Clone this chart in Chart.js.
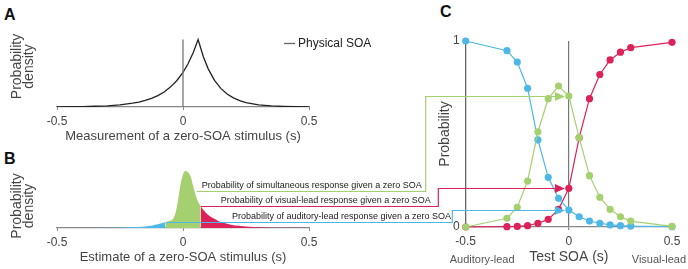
<!DOCTYPE html>
<html>
<head>
<meta charset="utf-8">
<script src="https://cdn.jsdelivr.net/npm/chart.js@4.4.1/dist/chart.umd.min.js"></script>
<style>
  body { margin: 0; background: #fff; width: 688px; height: 269px; position: relative; overflow: hidden; font-family: 'Liberation Sans', Arial, sans-serif; }
  canvas { position: absolute; }
  .tag { position: absolute; font-weight: bold; font-size: 16px; line-height: 16px; color: #111; }
</style>
</head>
<body>
<div class="tag" style="left:4px;top:7px">A</div>
<div class="tag" style="left:4px;top:151px">B</div>
<div class="tag" style="left:440px;top:4px">C</div>
<canvas id="chartA" width="340" height="144" style="left:0;top:0"></canvas>
<canvas id="chartB" width="340" height="132" style="left:0;top:137px"></canvas>
<canvas id="chartC" width="288" height="269" style="left:400px;top:0"></canvas>
<canvas id="overlay" width="688" height="269" style="left:0;top:0;pointer-events:none"></canvas>
<script>
// panel A: measurement density of a zero-SOA stimulus
const measX = [-0.5, -0.45, -0.4, -0.35, -0.3, -0.25, -0.2, -0.175, -0.15, -0.125, -0.1, -0.075, -0.05, -0.025, 0, 0.02, 0.04, 0.06, 0.08, 0.1, 0.125, 0.15, 0.175, 0.2, 0.225, 0.25, 0.3, 0.35, 0.4, 0.45, 0.5];
const measY = [0.002, 0.004, 0.006, 0.011, 0.018, 0.032, 0.056, 0.073, 0.097, 0.128, 0.169, 0.223, 0.295, 0.389, 0.513, 0.641, 0.80, 1.0, 0.751, 0.565, 0.395, 0.276, 0.193, 0.135, 0.095, 0.066, 0.032, 0.016, 0.008, 0.004, 0.002];
const physicalSOA = [0, 0];
const physicalY = [0, 1];

// panel B: estimate density, split by response region
const estX = [-0.5, -0.4, -0.3, -0.25, -0.2, -0.15, -0.12, -0.1, -0.07, -0.05, -0.04, -0.03, -0.02, -0.01, 0, 0.01, 0.02, 0.03, 0.04, 0.05, 0.06, 0.07, 0.08, 0.1, 0.12, 0.14, 0.16, 0.19, 0.22, 0.26, 0.3, 0.35, 0.4, 0.5];
const estY = [0, 0.002, 0.006, 0.01, 0.016, 0.028, 0.045, 0.065, 0.1, 0.13, 0.16, 0.26, 0.48, 0.76, 0.94, 1.0, 0.98, 0.91, 0.74, 0.58, 0.46, 0.38, 0.32, 0.23, 0.17, 0.125, 0.09, 0.058, 0.038, 0.022, 0.012, 0.006, 0.003, 0];
const windowEdges = [-0.07, 0.07];

// panel C: psychometric functions
const testSOA = [-0.5, -0.3, -0.25, -0.2, -0.15, -0.1, -0.05, 0, 0.05, 0.1, 0.15, 0.2, 0.25, 0.3, 0.5];
const pAuditory = [1.0, 0.948, 0.887, 0.746, 0.468, 0.267, 0.154, 0.091, 0.055, 0.032, 0.02, 0.011, 0.007, 0.005, 0.002];
const pSimultaneous = [0, 0.047, 0.106, 0.247, 0.512, 0.69, 0.758, 0.704, 0.48, 0.276, 0.16, 0.095, 0.055, 0.032, 0.003];
const pVisual = [0, 0.002, 0.003, 0.007, 0.02, 0.041, 0.095, 0.208, 0.48, 0.69, 0.82, 0.898, 0.94, 0.964, 0.993];

const responseNames = ['simultaneous', 'visual-lead', 'auditory-lead'];
const sideLabels = ['Auditory-lead', 'Visual-lead'];
const densityTitle = ['Probability', 'density'];

const GREEN = '#a5d06f';
const RED = '#dc2259';
const BLUE = '#4db8e8';
const AXIS = '#888';
const FONT = "'Liberation Sans', Arial, sans-serif";

Chart.defaults.font.family = FONT;
Chart.defaults.color = '#444';
Chart.defaults.animation = false;

const xy = (xs, ys) => xs.map((x, i) => ({ x: x, y: ys[i] }));

function densityX(title, height, padBottom) {
  return {
    type: 'linear', min: -0.5, max: 0.5,
    ticks: { stepSize: 0.5, padding: 4, font: { size: 12 }, color: '#444' },
    grid: { drawOnChartArea: false, tickLength: 3, color: AXIS },
    border: { color: AXIS, width: 1.2 },
    title: { display: true, text: title, font: { size: 13 }, color: '#444', padding: { top: 0, bottom: padBottom } },
    afterFit: s => { s.height = height; }
  };
}
function densityY(max, showTitle) {
  return {
    min: 0, max: max,
    ticks: { display: false },
    grid: { display: false },
    border: { display: false },
    title: { display: showTitle, text: densityTitle, font: { size: 14, lineHeight: 0.86 }, color: '#444', padding: { top: 11, bottom: 0 } },
    afterFit: s => { s.width = 57; }
  };
}

const chartA = new Chart(document.getElementById('chartA'), {
  type: 'line',
  data: {
    datasets: [
      { label: 'Physical SOA', data: xy(physicalSOA, physicalY), borderColor: '#777', borderWidth: 1.3, pointRadius: 0 },
      { label: 'measurement', data: xy(measX, measY), borderColor: '#222', borderWidth: 1.3, pointRadius: 0, tension: 0 }
    ]
  },
  options: {
    responsive: false,
    layout: { padding: { top: 26, right: 31, left: 0, bottom: 0 } },
    plugins: { legend: { display: false }, tooltip: { enabled: false } },
    scales: { x: densityX('Measurement of a zero-SOA stimulus (s)', 37, 0), y: densityY(1.2, true) }
  }
});

function region(lo, hi) {
  return xy(estX, estY).filter(p => p.x >= lo && p.x <= hi);
}

// B's y title sits lower than the axis centre, so it is placed by hand
const bTitlePlugin = {
  id: 'bTitle',
  afterDraw(chart) {
    const ctx = chart.ctx;
    ctx.save();
    ctx.translate(17, chart.scales.y.getPixelForValue(0) - 22);
    ctx.rotate(-Math.PI / 2);
    ctx.font = '14px ' + FONT;
    ctx.fillStyle = '#444';
    ctx.textAlign = 'center';
    ctx.textBaseline = 'middle';
    densityTitle.forEach((t, i) => ctx.fillText(t, 0, i * 12));
    ctx.restore();
  }
};

const chartB = new Chart(document.getElementById('chartB'), {
  type: 'line',
  data: {
    datasets: [
      { label: 'auditory', data: region(-0.5, windowEdges[0]), backgroundColor: BLUE, fill: 'origin', borderWidth: 0, pointRadius: 0, cubicInterpolationMode: 'monotone' },
      { label: 'simultaneous', data: region(windowEdges[0], windowEdges[1]), backgroundColor: GREEN, fill: 'origin', borderWidth: 0, pointRadius: 0, cubicInterpolationMode: 'monotone' },
      { label: 'visual', data: region(windowEdges[1], 0.5), backgroundColor: RED, fill: 'origin', borderWidth: 0, pointRadius: 0, cubicInterpolationMode: 'monotone' }
    ]
  },
  options: {
    responsive: false,
    layout: { padding: { top: 34, right: 31, left: 0, bottom: 0 } },
    plugins: { legend: { display: false }, tooltip: { enabled: false } },
    scales: { x: densityX('Estimate of a zero-SOA stimulus (s)', 41, 4), y: densityY(1.0, false) }
  },
  plugins: [bTitlePlugin]
});

function psych(label, values, color) {
  return {
    label: label, data: xy(testSOA, values), borderColor: color, backgroundColor: color,
    borderWidth: 1.2, pointRadius: 3.6, pointBorderWidth: 0, pointBackgroundColor: color, tension: 0, clip: false
  };
}

const sideLabelPlugin = {
  id: 'sideLabels',
  afterDraw(chart) {
    const ctx = chart.ctx;
    const xs = chart.scales.x;
    ctx.save();
    ctx.font = '11px ' + FONT;
    ctx.fillStyle = '#555';
    ctx.textBaseline = 'middle';
    ctx.textAlign = 'left';
    ctx.fillText(sideLabels[0], xs.getPixelForValue(-0.5) - 16, 260);
    ctx.textAlign = 'right';
    ctx.fillText(sideLabels[1], xs.getPixelForValue(0.5) + 14, 260);
    ctx.restore();
  }
};

const chartC = new Chart(document.getElementById('chartC'), {
  type: 'line',
  data: {
    datasets: [
      psych('simultaneous', pSimultaneous, GREEN),
      psych('auditory-lead', pAuditory, BLUE),
      psych('visual-lead', pVisual, RED)
    ]
  },
  options: {
    responsive: false,
    layout: { padding: { top: 41, right: 16, left: 0, bottom: 0 } },
    plugins: { legend: { display: false }, tooltip: { enabled: false } },
    scales: {
      x: {
        type: 'linear', min: -0.5, max: 0.5,
        ticks: { stepSize: 0.5, padding: 4, font: { size: 12 }, color: '#444' },
        grid: { color: c => (c.tick && c.tick.value === 0 ? '#777' : 'rgba(0,0,0,0)'), tickColor: AXIS, tickLength: 3, lineWidth: 1.2 },
        border: { color: AXIS, width: 1.2 },
        title: { display: true, text: 'Test SOA (s)', font: { size: 14 }, color: '#444', padding: { top: 0, bottom: 3 } },
        afterFit: s => { s.height = 42; }
      },
      y: {
        min: 0, max: 1,
        ticks: { stepSize: 1, padding: 3, font: { size: 12 }, color: '#444' },
        grid: { drawOnChartArea: false, tickLength: 3, color: AXIS },
        border: { color: '#666', width: 1.3 },
        title: { display: true, text: 'Probability', font: { size: 14 }, color: '#444', padding: { top: 37, bottom: 0 } },
        afterFit: s => { s.width = 65.7; }
      }
    }
  },
  plugins: [sideLabelPlugin]
});

// overlay: legend of A and arrows from B to C
const ov = document.getElementById('overlay').getContext('2d');
const offB = 137, offC = 400;

ov.strokeStyle = '#666';
ov.lineWidth = 1.3;
ov.beginPath();
ov.moveTo(284, 43.5);
ov.lineTo(295, 43.5);
ov.stroke();
ov.font = '12px ' + FONT;
ov.fillStyle = '#222';
ov.textBaseline = 'middle';
ov.fillText(chartA.data.datasets[0].label, 298, 43.5);

const arrowFromX = [0.055, 0.07, -0.07];
const arrowFromY = [0.65, 0.38, 0.1];
const arrowColors = [GREEN, RED, BLUE];
const arrowSeries = [pSimultaneous, pVisual, pAuditory];
const elbowX = [425.7, 438.3, 452.3];
const textX = [201.7, 220.7, 232];
const zeroIdx = testSOA.indexOf(0);

arrowColors.forEach((col, i) => {
  const x0 = chartB.scales.x.getPixelForValue(arrowFromX[i]);
  const y0 = Math.round(offB + chartB.scales.y.getPixelForValue(arrowFromY[i])) + 0.5;
  const y1 = Math.round(chartC.scales.y.getPixelForValue(arrowSeries[i][zeroIdx])) + 0.5;
  const x1 = offC + chartC.scales.x.getPixelForValue(0) - 4;
  ov.strokeStyle = col;
  ov.fillStyle = col;
  ov.lineWidth = 1.2;
  ov.beginPath();
  ov.moveTo(x0, y0);
  ov.lineTo(elbowX[i], y0);
  ov.lineTo(elbowX[i], y1);
  ov.lineTo(x1 - 8, y1);
  ov.stroke();
  ov.beginPath();
  ov.moveTo(x1, y1);
  ov.lineTo(x1 - 10, y1 - 4.5);
  ov.lineTo(x1 - 10, y1 + 4.5);
  ov.closePath();
  ov.fill();

  ov.font = '9px ' + FONT;
  ov.fillStyle = '#222';
  ov.textBaseline = 'alphabetic';
  ov.textAlign = 'left';
  ov.fillText('Probability of ' + responseNames[i] + ' response given a zero SOA', textX[i], y0 - 3.5);
});
</script>
</body>
</html>
